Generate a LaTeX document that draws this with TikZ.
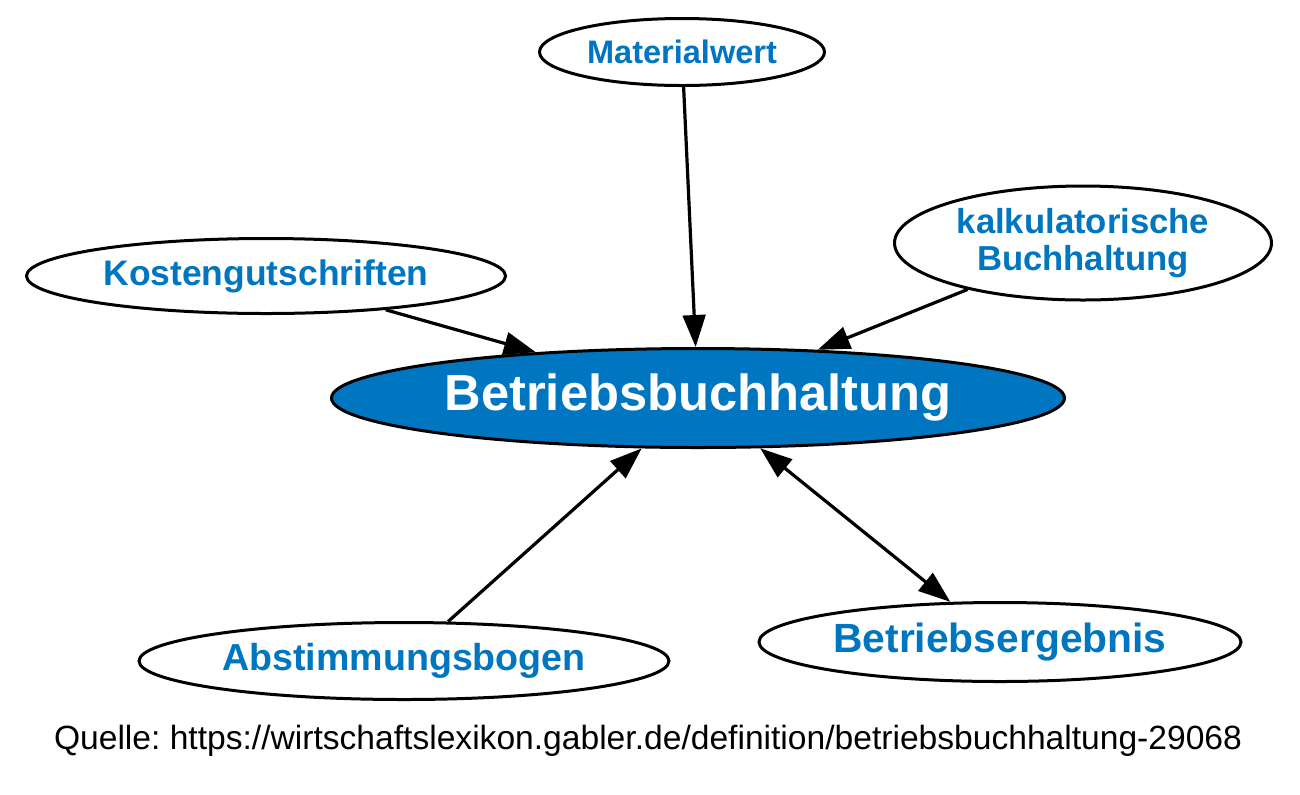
\documentclass[tikz,border=0pt]{standalone}
\usepackage{fontspec}
\setmainfont{Liberation Sans}
\usetikzlibrary{shapes.geometric,arrows.meta}
\definecolor{gblue}{RGB}{0,118,192}
\frenchspacing
\tikzset{
  px/.style={x=0.75pt,y=-0.75pt},
  ell/.style={ellipse,draw=black,line width=2.25pt,inner sep=0pt,align=center},
  side/.style={ell,fill=white,text=gblue},
  conn/.style={line width=2.4pt,-{Triangle[length=24pt,width=17pt]}},
  bconn/.style={line width=2.4pt,{Triangle[length=24pt,width=17pt]}-{Triangle[length=24pt,width=17pt]}},
}
\begin{document}
\begin{tikzpicture}[px]
\useasboundingbox (0,0) rectangle (1300,794);
\node[ell,fill=gblue,text=white,minimum width=733*0.75pt,minimum height=99*0.75pt,font=\bfseries\fontsize{38pt}{44pt}\selectfont] (bb) at (698,398) {Betriebsbuchhaltung};
\node[side,minimum width=285*0.75pt,minimum height=67*0.75pt,font=\bfseries\fontsize{24.4pt}{28pt}\selectfont] (mat) at (682,52) {Materialwert};
\node[side,minimum width=377*0.75pt,minimum height=114*0.75pt,font=\bfseries\fontsize{26pt}{27.75pt}\selectfont] (kalk) at (1083,243) {kalkulatorische\\Buchhaltung};
\node[side,minimum width=479*0.75pt,minimum height=75*0.75pt,font=\bfseries\fontsize{26.6pt}{30pt}\selectfont] (kost) at (266,276) {Kostengutschriften};
\node[side,minimum width=530*0.75pt,minimum height=77*0.75pt,font=\bfseries\fontsize{28.2pt}{32pt}\selectfont] (abst) at (404,661) {Abstimmungsbogen};
\node[side,minimum width=482*0.75pt,minimum height=79*0.75pt,font=\bfseries\fontsize{30.6pt}{34pt}\selectfont] (erg) at (1000,642) {Betriebsergebnis};
\node[inner sep=0pt,font=\fontsize{25.2pt}{30pt}\selectfont] (src) at (648,741) {Quelle: https://wirtschaftslexikon.gabler.de/definition/betriebsbuchhaltung-29068};
\draw[conn] (mat) -- (bb);
\draw[conn] (kalk) -- (bb);
\draw[conn] (kost) -- (bb);
\draw[conn] (abst) -- (bb);
\draw[bconn] (bb) -- (erg);
\end{tikzpicture}
\end{document}
